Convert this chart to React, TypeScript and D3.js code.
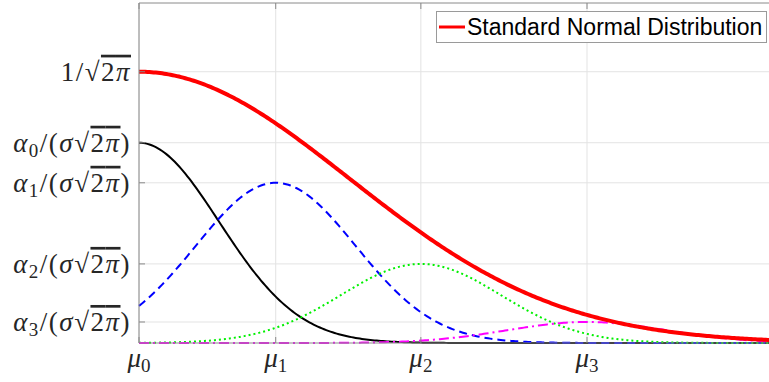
import * as d3 from "d3";

// Component means (x), common sigma and peak heights alpha_k/(sigma*sqrt(2pi))
const means = [0, 0.65, 1.34, 2.13];
const sigma = 0.38;
const peakHeights = [0.2945, 0.2356, 0.1163, 0.0309];
const seriesColors = ["#000000", "#0000ff", "#00f000", "#ff00ff"];
const seriesDash = ["", "8,5", "2,3", "10,4,2,4"];
const xTickSubs = ["0", "1", "2", "3"];
const ySubs = ["0", "1", "2", "3"];
const legendLabel = "Standard Normal Distribution";

const W = 769;
const H = 382;
const margin = { left: 139, top: 3, right: 770, bottom: 343 };

const x = d3.scaleLinear().domain([0, 3]).range([margin.left, margin.right]);
const y = d3.scaleLinear().domain([0, 0.5]).range([margin.bottom, margin.top]);

const xs = d3.range(0, 3.0001, 0.01);
const gauss = (t: number, mu: number, s: number, peak: number) =>
  peak * Math.exp(-((t - mu) ** 2) / (2 * s * s));

const line = d3
  .line<number[]>()
  .x((d) => x(d[0]))
  .y((d) => y(d[1]));

const stdPeak = 1 / Math.sqrt(2 * Math.PI);
const serif = "'Liberation Serif', 'DejaVu Serif', serif";
const fs = 27;

function SqrtTwoPi() {
  return (
    <>
      <tspan>√</tspan>
      <tspan style={{ textDecoration: "overline" }}>
        2<tspan fontStyle="italic">π</tspan>
      </tspan>
    </>
  );
}

export default function App() {
  const yTicks = [stdPeak, ...peakHeights];
  return (
    <svg
      width={W}
      height={H}
      style={{ position: "absolute", left: 0, top: 0, background: "#fff" }}
    >
      {/* grid */}
      <g stroke="#e3e3e3" strokeWidth={1}>
        {means.map((m, i) => (
          <line key={"gx" + i} x1={x(m)} x2={x(m)} y1={margin.top} y2={margin.bottom} />
        ))}
        {yTicks.map((v, i) => (
          <line key={"gy" + i} x1={margin.left} x2={margin.right} y1={y(v)} y2={y(v)} />
        ))}
      </g>

      {/* component gaussians */}
      {means.map((m, i) => (
        <path
          key={"c" + i}
          d={line(xs.map((t) => [t, gauss(t, m, sigma, peakHeights[i])]))!}
          fill="none"
          stroke={seriesColors[i]}
          strokeWidth={2}
          strokeDasharray={seriesDash[i] || undefined}
        />
      ))}

      {/* standard normal */}
      <path
        d={line(xs.map((t) => [t, gauss(t, 0, 1, stdPeak)]))!}
        fill="none"
        stroke="#ff0000"
        strokeWidth={4}
      />

      {/* axes box */}
      <g stroke="#8a8a8a" strokeWidth={1} fill="none">
        <line x1={margin.left} x2={margin.left} y1={margin.top} y2={margin.bottom} />
        <line x1={margin.left} x2={margin.right} y1={margin.top} y2={margin.top} />
        <line x1={margin.left} x2={margin.right} y1={margin.bottom} y2={margin.bottom} />
        {means.map((m, i) => (
          <g key={"tx" + i}>
            <line x1={x(m)} x2={x(m)} y1={margin.bottom} y2={margin.bottom - 6} />
            <line x1={x(m)} x2={x(m)} y1={margin.top} y2={margin.top + 6} />
          </g>
        ))}
        {yTicks.map((v, i) => (
          <line key={"ty" + i} x1={margin.left} x2={margin.left + 6} y1={y(v)} y2={y(v)} />
        ))}
      </g>

      {/* x tick labels */}
      {means.map((m, i) => (
        <text
          key={"lx" + i}
          x={x(m)}
          y={367}
          textAnchor="middle"
          fontFamily={serif}
          fontSize={fs}
          fill="#262626"
        >
          <tspan fontStyle="italic">μ</tspan>
          <tspan fontSize={19} dy={5}>
            {xTickSubs[i]}
          </tspan>
        </text>
      ))}

      {/* y tick labels */}
      <text
        x={131}
        y={y(stdPeak) + 9}
        textAnchor="end"
        fontFamily={serif}
        fontSize={fs}
        letterSpacing={1.5}
        fill="#262626"
      >
        <tspan>1/</tspan>
        <SqrtTwoPi />
      </text>
      {peakHeights.map((v, i) => (
        <text
          key={"ly" + i}
          x={131}
          y={y(v) + 9}
          textAnchor="end"
          fontFamily={serif}
          fontSize={fs}
          letterSpacing={1.5}
          fill="#262626"
        >
          <tspan fontStyle="italic">α</tspan>
          <tspan fontSize={19} dy={5}>
            {ySubs[i]}
          </tspan>
          <tspan dy={-5}>/(</tspan>
          <tspan fontStyle="italic">σ</tspan>
          <SqrtTwoPi />
          <tspan>)</tspan>
        </text>
      ))}

      {/* legend */}
      <rect x={436.5} y={11.5} width={330} height={31} fill="#fff" stroke="#9a9a9a" />
      <line x1={439} x2={465} y1={27} y2={27} stroke="#ff0000" strokeWidth={3} />
      <text
        x={467}
        y={35}
        fontFamily="'Liberation Sans', Arial, sans-serif"
        fontSize={23}
        fill="#000"
      >
        {legendLabel}
      </text>
    </svg>
  );
}
